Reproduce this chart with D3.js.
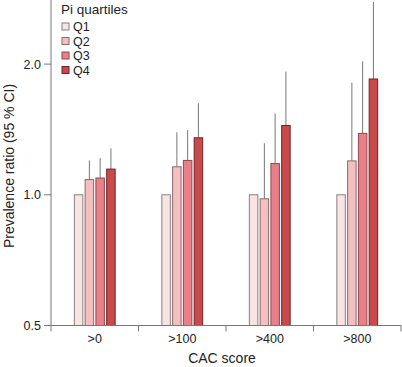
<!DOCTYPE html>
<html>
<head>
<meta charset="utf-8">
<script src="https://cdn.jsdelivr.net/npm/d3@7"></script>
<style>
  body { margin: 0; background: #fff; }
  text { font-family: "Liberation Sans", Arial, sans-serif; }
</style>
</head>
<body>
<div id="chart"></div>
<script>
var categories = ['>0', '>100', '>400', '>800']
var quartiles = ['Q1', 'Q2', 'Q3', 'Q4']
var ratios = [
  [1.0, 1.084, 1.093, 1.146],
  [1.0, 1.16, 1.20, 1.353],
  [1.0, 0.979, 1.18, 1.444],
  [1.0, 1.197, 1.385, 1.848]
]
var upper = [
  [null, 1.20, 1.214, 1.28],
  [null, 1.394, 1.41, 1.625],
  [null, 1.314, 1.538, 1.921],
  [null, 1.813, 2.03, 3.2]
]
var yTicks = [0.5, 1.0, 2.0]
var fills = ['#f9e4e4', '#f3bfc1', '#ea7f87', '#c84a4b']
var strokes = ['#8a8080', '#8a6a6a', '#8a4a4f', '#6e2424']

window.onload = function(){
  var w = 402, h = 367
  var left = 51, right = 401, top = 2, bottom = 325.5

  var svg = d3.select('#chart').append('svg').attr('width', w).attr('height', h)

  var x = d3.scaleBand().domain(categories).range([left, right]).paddingInner(0).paddingOuter(0)
  var xq = d3.scaleBand().domain(quartiles).range([0, x.bandwidth()]).paddingInner(0.12).paddingOuter(2.12)
  var y = d3.scaleLog().domain([0.5, 2.78]).range([bottom, top])

  svg.append('defs').append('clipPath').attr('id', 'clip')
    .append('rect').attr('x', left).attr('y', top).attr('width', right - left).attr('height', bottom - top)

  var plot = svg.append('g').attr('clip-path', 'url(#clip)')

  categories.forEach(function(c, i){
    var g = plot.append('g').attr('transform', 'translate(' + x(c) + ',0)')
    quartiles.forEach(function(q, j){
      if (upper[i][j] != null) {
        g.append('line')
          .attr('x1', xq(q) + xq.bandwidth() / 2).attr('x2', xq(q) + xq.bandwidth() / 2)
          .attr('y1', y(ratios[i][j])).attr('y2', y(upper[i][j]))
          .attr('stroke', '#777').attr('stroke-width', 1)
      }
      g.append('rect')
        .attr('x', xq(q) + 0.5).attr('width', xq.bandwidth() - 1)
        .attr('y', y(ratios[i][j])).attr('height', bottom - y(ratios[i][j]))
        .attr('fill', fills[j]).attr('stroke', strokes[j]).attr('stroke-width', 1)
    })
  })

  // axes
  var axisColor = '#777'
  var ya = svg.append('g')
  ya.append('line').attr('x1', left).attr('x2', left).attr('y1', 0).attr('y2', bottom).attr('stroke', axisColor)
  yTicks.forEach(function(t){
    ya.append('line').attr('x1', left - 7).attr('x2', left).attr('y1', y(t)).attr('y2', y(t)).attr('stroke', axisColor)
    ya.append('text').attr('x', left - 10).attr('y', y(t) + 4.5).attr('text-anchor', 'end')
      .attr('font-size', 12.5).attr('fill', '#222').text(t.toFixed(1))
  })

  var xa = svg.append('g')
  xa.append('line').attr('x1', left - 7).attr('x2', right).attr('y1', bottom).attr('y2', bottom).attr('stroke', axisColor)
  categories.concat(['end']).forEach(function(c, i){
    var px = i < categories.length ? x(c) : right
    xa.append('line').attr('x1', px).attr('x2', px).attr('y1', bottom).attr('y2', bottom + 6).attr('stroke', axisColor)
  })
  categories.forEach(function(c){
    xa.append('text').attr('x', x(c) + x.bandwidth() / 2).attr('y', 343).attr('text-anchor', 'middle')
      .attr('font-size', 12.5).attr('fill', '#222').text(c)
  })

  svg.append('text').attr('x', 222).attr('y', 363).attr('text-anchor', 'middle')
    .attr('font-size', 14).attr('fill', '#222').text('CAC score')
  svg.append('text').attr('transform', 'translate(14,166) rotate(-90)').attr('text-anchor', 'middle')
    .attr('font-size', 14).attr('fill', '#222').text('Prevalence ratio (95 % CI)')

  // legend
  var lg = svg.append('g')
  lg.append('text').attr('x', 61).attr('y', 14).attr('font-size', 13.5).attr('fill', '#222').text('Pi quartiles')
  quartiles.forEach(function(q, j){
    var cy = 26.5 + j * 14.5
    lg.append('rect').attr('x', 62).attr('y', cy - 3.5).attr('width', 7).attr('height', 7)
      .attr('fill', fills[j]).attr('stroke', strokes[j])
    lg.append('text').attr('x', 73).attr('y', cy + 4.5).attr('font-size', 12.5).attr('fill', '#222').text(q)
  })
}
</script>
</body>
</html>
